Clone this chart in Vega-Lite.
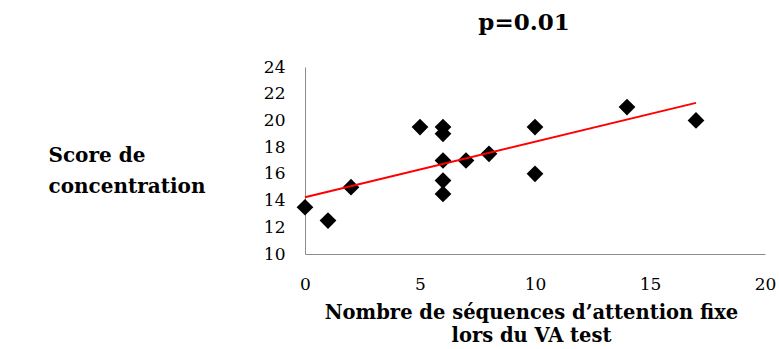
{
  "$schema": "https://vega.github.io/schema/vega-lite/v6.json",
  "width": 460,
  "height": 187,
  "autosize": {"type": "none"},
  "padding": {"left": 305, "top": 67, "right": 14, "bottom": 95},
  "background": "white",
  "config": {"view": {"stroke": null}, "font": "DejaVu Serif"},
  "title": {"text": "p=0.01", "font": "DejaVu Serif", "fontSize": 23, "fontWeight": "bold", "color": "black", "anchor": "middle", "offset": 23, "dx": -11},
  "data": {"values": [
    {"x": 0, "y": 13.5}, {"x": 1, "y": 12.5}, {"x": 2, "y": 15},
    {"x": 5, "y": 19.5}, {"x": 6, "y": 19.5}, {"x": 6, "y": 19},
    {"x": 6, "y": 17}, {"x": 6, "y": 15.5}, {"x": 6, "y": 14.5},
    {"x": 7, "y": 17}, {"x": 8, "y": 17.5}, {"x": 10, "y": 19.5},
    {"x": 10, "y": 16}, {"x": 14, "y": 21}, {"x": 17, "y": 20}
  ]},
  "encoding": {
    "x": {"field": "x", "type": "quantitative",
      "scale": {"domain": [0, 20], "nice": false, "zero": false},
      "axis": {"values": [0, 5, 10, 15, 20], "grid": false, "ticks": false, "domainColor": "#8c8c8c", "domainWidth": 1,
        "labelFont": "DejaVu Serif", "labelFontSize": 17, "labelColor": "black", "labelPadding": 22, "labelFlush": false, "labelBound": false,
        "title": ["Nombre de séquences d’attention fixe", "lors du VA test"], "titleFont": "DejaVu Serif", "titleFontSize": 19.5, "titleFontWeight": "bold", "titleColor": "black", "titlePadding": 11, "titleLineHeight": 23, "titleX": 226}},
    "y": {"field": "y", "type": "quantitative",
      "scale": {"domain": [10, 24], "nice": false, "zero": false},
      "axis": {"values": [10, 12, 14, 16, 18, 20, 22, 24], "grid": false, "ticks": false, "domainColor": "#8c8c8c", "domainWidth": 1,
        "labelFont": "DejaVu Serif", "labelFontSize": 17, "labelColor": "black", "labelPadding": 20, "labelFlush": false, "labelBound": false,
        "title": ["Score de", "concentration"], "titleFont": "DejaVu Serif", "titleFontSize": 20, "titleFontWeight": "bold", "titleColor": "black",
        "titleAngle": 0, "titleAlign": "left", "titleBaseline": "alphabetic", "titleX": -257, "titleY": 94, "titleLineHeight": 31}}
  },
  "layer": [
    {"mark": {"type": "point", "shape": "diamond", "filled": true, "color": "black", "size": 280, "opacity": 1}},
    {"transform": [{"regression": "y", "on": "x", "extent": [0, 17]}],
     "mark": {"type": "line", "color": "#ff0000", "strokeWidth": 2}}
  ]
}
